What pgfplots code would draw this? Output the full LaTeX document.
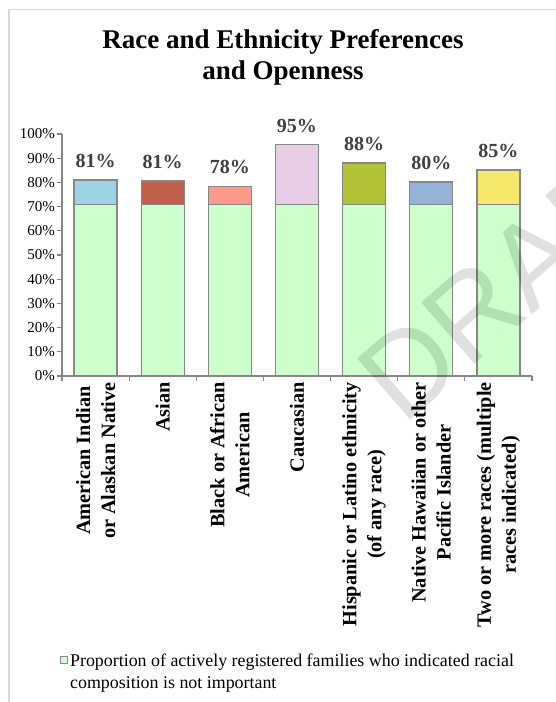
\documentclass[border=0pt]{standalone}
\usepackage{fontspec}
\setmainfont{Liberation Serif}
\newfontfamily\wmfont{Liberation Sans}
\usepackage{pgfplots}
\pgfplotsset{compat=1.18}

\definecolor{basegreen}{HTML}{CCFFCC}
\definecolor{barline}{HTML}{878787}
\definecolor{axisgray}{HTML}{868686}
\definecolor{framegray}{HTML}{D9D9D9}
\definecolor{labelgray}{HTML}{404040}
\definecolor{cAmInd}{HTML}{9DD3E4}
\definecolor{cAsian}{HTML}{C0604D}
\definecolor{cBlack}{HTML}{FA9A8A}
\definecolor{cCauc}{HTML}{E8CDE6}
\definecolor{cHisp}{HTML}{B1C237}
\definecolor{cHaw}{HTML}{94B3D6}
\definecolor{cTwo}{HTML}{F5E86B}

\begin{document}
\begin{tikzpicture}[x=1pt,y=1pt]
\useasboundingbox (0,0) rectangle (556,-702);
\draw[framegray, line width=1.5pt] (9,-702) -- (9,-9.3) -- (556,-9.3);

\node[align=center, font=\fontsize{27}{31}\selectfont\bfseries] at (283,-57.5)
  {Race and Ethnicity Preferences\\and Openness};

\begin{axis}[
    at={(62pt,-376pt)}, anchor=south west,
    scale only axis, width=470pt, height=242pt,
    xmin=0, xmax=7, ymin=0, ymax=100,
    axis lines*=left,
    axis line style={axisgray, line width=1.2pt},
    ybar, bar shift=0pt, bar width=0.64,
    xtick={0,1,...,7}, xticklabels={},
    ytick={0,10,...,100},
    yticklabels={0\%,10\%,20\%,30\%,40\%,50\%,60\%,70\%,80\%,90\%,100\%},
    yticklabel style={font=\fontsize{15}{18}\selectfont, inner sep=2pt},
    tick align=outside,
    major tick length=5pt,
    tick style={axisgray, line width=1.2pt},
    extra x ticks={0.5,1.5,...,6.5},
    extra x tick labels={American Indian\\or Alaskan Native, Asian, Black or African\\American, Caucasian, Hispanic or Latino ethnicity\\(of any race), Native Hawaiian or other\\Pacific Islander, Two or more races (multiple\\races indicated)},
    extra x tick style={major tick length=0pt,
        xticklabel style={rotate=90, anchor=east, align=center,
        font=\fontsize{20.3}{25}\selectfont\bfseries, inner sep=6pt}},
    every axis plot/.append style={draw=barline, line width=1.2pt},
    point meta=explicit symbolic,
    nodes near coords style={font=\fontsize{20}{24}\selectfont\bfseries,
        text=labelgray, anchor=south, inner sep=2pt, yshift=10pt},
    legend style={draw=none, fill=none, inner sep=0pt,
        at={(-0.004,-1.13)}, anchor=north west,
        font=\fontsize{17.9}{21.5}\selectfont},
    legend cell align=left,
    clip=false,
]

% full heights, coloured top parts
\addplot[fill=cAmInd, nodes near coords, forget plot] coordinates {(0.5,81.0) [81\%]};
\addplot[fill=cAsian, nodes near coords, forget plot] coordinates {(1.5,80.6) [81\%]};
\addplot[fill=cBlack, nodes near coords, forget plot] coordinates {(2.5,78.2) [78\%]};
\addplot[fill=cCauc,  nodes near coords, forget plot] coordinates {(3.5,95.5) [95\%]};
\addplot[fill=cHisp,  nodes near coords, forget plot] coordinates {(4.5,88.0) [88\%]};
\addplot[fill=cHaw,   nodes near coords, forget plot] coordinates {(5.5,80.2) [80\%]};
\addplot[fill=cTwo,   nodes near coords, forget plot] coordinates {(6.5,85.1) [85\%]};

% families for whom racial composition is not important
\addplot[fill=basegreen,
    legend image code/.code={\draw[fill=basegreen, draw=barline, line width=0.8pt] (0pt,-3.5pt) rectangle (7pt,3.5pt);}]
    coordinates {(0.5,71) (1.5,71) (2.5,71) (3.5,71) (4.5,71) (5.5,71) (6.5,71)};
\addlegendentry{\begin{tabular}[t]{@{}l@{}}Proportion of actively registered families who indicated racial\\composition is not important\end{tabular}}

\end{axis}

\node[anchor=base west, inner sep=0pt, rotate=41, text=black, opacity=0.12,
      font=\fontsize{118}{118}\selectfont\wmfont] at (403,-427) {DRAFT};
\end{tikzpicture}
\end{document}
